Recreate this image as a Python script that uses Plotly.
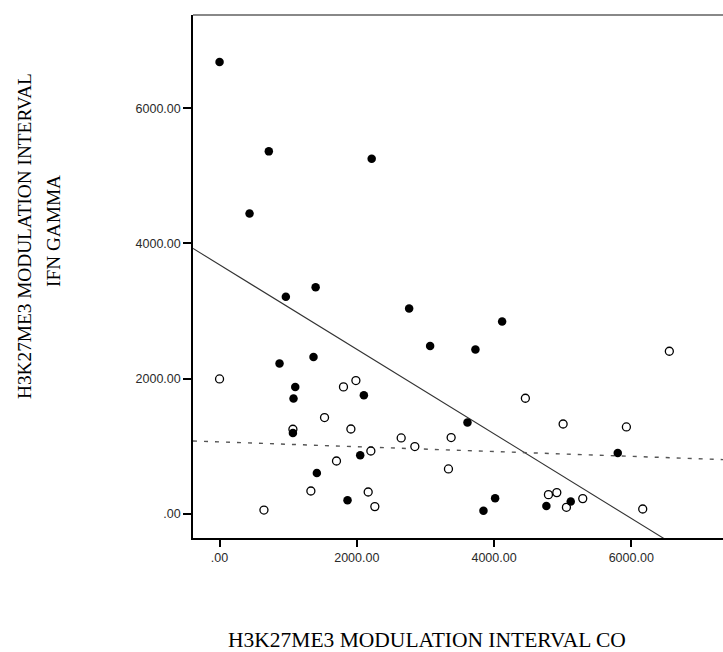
import plotly.graph_objects as go
import numpy as np

# ---- data ----
filled_x = [0, 718, 2217, 437, 1400, 966, 874, 1369, 1103, 1078, 2103, 1069, 2050,
            1418, 1865, 2763, 4118, 3069, 3729, 3613, 4016, 3846, 4763, 5118, 5803]
filled_y = [6686, 5363, 5253, 4444, 3353, 3209, 2222, 2320, 1876, 1704, 1753, 1194, 864,
            601, 197, 3037, 2844, 2483, 2430, 1348, 227, 44, 113, 178, 898]

open_x = [0, 1806, 1987, 1530, 1914, 1069, 2205, 1704, 1331, 2166, 2263, 647, 4457,
          5007, 2647, 3375, 2846, 3336, 4793, 4915, 5055, 6555, 5929, 5293, 6167]
open_y = [1994, 1876, 1970, 1422, 1253, 1249, 927, 779, 335, 320, 104, 53, 1708,
          1327, 1120, 1126, 993, 661, 281, 311, 93, 2404, 1283, 222, 68]

# fit lines: intercept, slope
fit_filled = [3684, -0.6258]
fit_open = [1062, -0.0357]

x_range = [-387, 7337]
y_range = [-361, 7382]

tick_vals = [0, 2000, 4000, 6000]
tick_text = [".00", "2000.00", "4000.00", "6000.00"]

y_title_1 = "H3K27ME3 MODULATION INTERVAL"
y_title_2 = "IFN GAMMA"
x_title = "H3K27ME3 MODULATION INTERVAL CO"

# ---- layout geometry ----
W, H = 723, 652
L, R, T, B = 193, 0, 15, 114
pw, ph = W - L - R, H - T - B


def px_x(p):
    return (p - L) / pw


def px_y(p):
    return (H - B - p) / ph


fig = go.Figure()

lx = np.array(x_range, dtype=float)
fig.add_trace(go.Scatter(x=lx, y=fit_filled[0] + fit_filled[1] * lx, mode="lines",
                         line=dict(color="#333333", width=1.1), showlegend=False,
                         hoverinfo="skip"))
fig.add_trace(go.Scatter(x=lx, y=fit_open[0] + fit_open[1] * lx, mode="lines",
                         line=dict(color="#555555", width=1.4, dash="4px,7px"),
                         showlegend=False, hoverinfo="skip"))

fig.add_trace(go.Scatter(x=open_x, y=open_y, mode="markers",
                         marker=dict(symbol="circle", size=8, color="white",
                                     line=dict(color="black", width=1.3)),
                         showlegend=False, cliponaxis=False))
fig.add_trace(go.Scatter(x=filled_x, y=filled_y, mode="markers",
                         marker=dict(symbol="circle", size=8.5, color="black",
                                     line=dict(color="black", width=0)),
                         showlegend=False, cliponaxis=False))

axis_font = dict(family="Liberation Sans, Arial", size=12.5, color="#2a2a2a")

fig.update_xaxes(range=x_range, tickvals=tick_vals, ticktext=tick_text,
                 showgrid=False, zeroline=False, showline=True, linecolor="black",
                 linewidth=1.5, ticks="outside", ticklen=7, tickwidth=1.5,
                 tickcolor="black", tickfont=axis_font)
fig.update_yaxes(range=y_range, tickvals=tick_vals, ticktext=tick_text,
                 showgrid=False, zeroline=False, showline=True, linecolor="black",
                 linewidth=1.5, ticks="outside", ticklen=8, tickwidth=1.5,
                 tickcolor="black", tickfont=axis_font)

# top frame line
fig.add_shape(type="line", xref="paper", yref="paper", x0=0, x1=1, y0=1, y1=1,
              line=dict(color="#888888", width=2))

serif = "Liberation Serif, Times New Roman"
fig.add_annotation(text=y_title_1, xref="paper", yref="paper",
                   x=px_x(24), y=px_y(236), xanchor="center", yanchor="middle",
                   textangle=-90, showarrow=False,
                   font=dict(family=serif, size=19.3, color="black"))
fig.add_annotation(text=y_title_2, xref="paper", yref="paper",
                   x=px_x(53), y=px_y(231), xanchor="center", yanchor="middle",
                   textangle=-90, showarrow=False,
                   font=dict(family=serif, size=19.3, color="black"))
fig.add_annotation(text=x_title, xref="paper", yref="paper",
                   x=px_x(427), y=px_y(626), xanchor="center", yanchor="top",
                   showarrow=False,
                   font=dict(family=serif, size=21.5, color="black"))

fig.update_layout(width=W, height=H, margin=dict(l=L, r=R, t=T, b=B),
                  paper_bgcolor="white", plot_bgcolor="white")

fig.write_html("out.html")
